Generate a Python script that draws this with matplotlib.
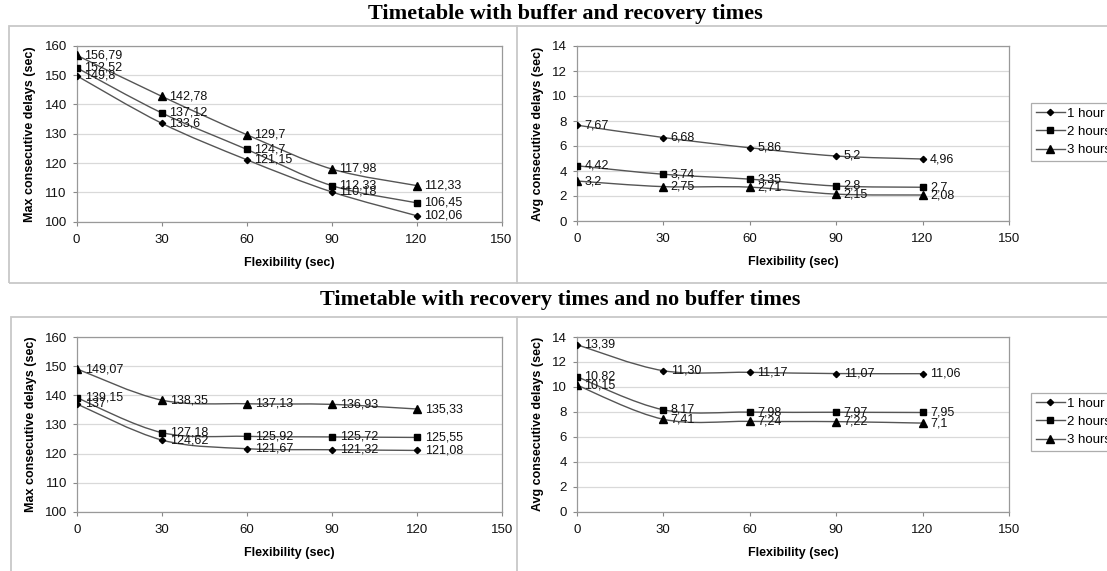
import numpy as np
import matplotlib
matplotlib.use("Agg")
import matplotlib.pyplot as plt
from matplotlib.path import Path
from matplotlib.patches import PathPatch, Rectangle
from matplotlib.lines import Line2D

plt.rcParams['font.family'] = ['Liberation Sans', 'DejaVu Sans']

flex = [0, 30, 60, 90, 120]
series = ['1 hour', '2 hours', '3 hours']
markers = ['D', 's', '^']
msizes = [3.2, 4.5, 5.5]

# top: timetable with buffer and recovery times
max_buf = [
    [149.8, 133.6, 121.15, 110.18, 102.06],
    [152.52, 137.12, 124.7, 112.33, 106.45],
    [156.79, 142.78, 129.7, 117.98, 112.33],
]
max_buf_lbl = [
    ['149,8', '133,6', '121,15', '110,18', '102,06'],
    ['152,52', '137,12', '124,7', '112,33', '106,45'],
    ['156,79', '142,78', '129,7', '117,98', '112,33'],
]
avg_buf = [
    [7.67, 6.68, 5.86, 5.2, 4.96],
    [4.42, 3.74, 3.35, 2.8, 2.7],
    [3.2, 2.75, 2.71, 2.15, 2.08],
]
avg_buf_lbl = [
    ['7,67', '6,68', '5,86', '5,2', '4,96'],
    ['4,42', '3,74', '3,35', '2,8', '2,7'],
    ['3,2', '2,75', '2,71', '2,15', '2,08'],
]

# bottom: recovery times and no buffer times
max_nobuf = [
    [137, 124.62, 121.67, 121.32, 121.08],
    [139.15, 127.18, 125.92, 125.72, 125.55],
    [149.07, 138.35, 137.13, 136.93, 135.33],
]
max_nobuf_lbl = [
    ['137', '124,62', '121,67', '121,32', '121,08'],
    ['139,15', '127,18', '125,92', '125,72', '125,55'],
    ['149,07', '138,35', '137,13', '136,93', '135,33'],
]
avg_nobuf = [
    [13.39, 11.30, 11.17, 11.07, 11.06],
    [10.82, 8.17, 7.98, 7.97, 7.95],
    [10.15, 7.41, 7.24, 7.22, 7.1],
]
avg_nobuf_lbl = [
    ['13,39', '11,30', '11,17', '11,07', '11,06'],
    ['10,82', '8,17', '7,98', '7,97', '7,95'],
    ['10,15', '7,41', '7,24', '7,22', '7,1'],
]

W, H = 1107, 571
fig = plt.figure(figsize=(W / 100, H / 100), dpi=100)


def px(x0, y0, x1, y1):
    return [x0 / W, 1 - y1 / H, (x1 - x0) / W, (y1 - y0) / H]


def smooth_path(xs, ys):
    # Catmull-Rom style bezier, like the smoothed lines of a spreadsheet chart
    pts = np.column_stack([xs, ys]).astype(float)
    n = len(pts)
    verts = [pts[0]]
    codes = [Path.MOVETO]
    for i in range(n - 1):
        p0 = pts[max(i - 1, 0)]
        p1 = pts[i]
        p2 = pts[i + 1]
        p3 = pts[min(i + 2, n - 1)]
        verts += [p1 + (p2 - p0) / 6, p2 - (p3 - p1) / 6, p2]
        codes += [Path.CURVE4] * 3
    return Path(verts, codes)


def panel(rect, data, labels, ylim, yticks, ylabel):
    ax = fig.add_axes(rect)
    for vals, lbls, m, ms in zip(data, labels, markers, msizes):
        ax.add_patch(PathPatch(smooth_path(flex, vals), fill=False,
                               edgecolor='#555555', lw=1.0, zorder=2))
        ax.plot(flex, vals, ls='none', marker=m, ms=ms, color='black', zorder=3)
        for x, y, t in zip(flex, vals, lbls):
            ax.annotate(t, (x, y), xytext=(5.5, 0), textcoords='offset points',
                        va='center', ha='left', fontsize=9, color='#111111', zorder=4)
    ax.set_xlim(0, 150)
    ax.set_xticks([0, 30, 60, 90, 120, 150])
    ax.set_ylim(*ylim)
    ax.set_yticks(yticks)
    ax.yaxis.grid(True, color='#d9d9d9', lw=0.9)
    ax.set_axisbelow(True)
    for s in ax.spines.values():
        s.set_color('#999999')
        s.set_linewidth(0.9)
    ax.tick_params(labelsize=9.5, length=3, color='#888888', pad=4, labelcolor='#111111')
    ax.tick_params(axis='x', pad=5.5)
    ax.set_xlabel('Flexibility (sec)', fontsize=9, fontweight='bold', labelpad=8)
    ax.set_ylabel(ylabel, fontsize=9, fontweight='bold', labelpad=6)
    return ax


panel(px(76.5, 45.7, 501.5, 221.7), max_buf, max_buf_lbl, (100, 160),
      range(100, 161, 10), 'Max consecutive delays (sec)')
ax_tr = panel(px(576.7, 46, 1009, 221), avg_buf, avg_buf_lbl, (0, 14),
              range(0, 15, 2), 'Avg consecutive delays (sec)')
panel(px(77.3, 337.3, 502, 511.7), max_nobuf, max_nobuf_lbl, (100, 160),
      range(100, 161, 10), 'Max consecutive delays (sec)')
ax_br = panel(px(576.7, 337, 1009, 511.7), avg_nobuf, avg_nobuf_lbl, (0, 14),
              range(0, 15, 2), 'Avg consecutive delays (sec)')

handles = [Line2D([], [], color='#555555', lw=1.0, marker=m, ms=ms,
                  markerfacecolor='black', markeredgecolor='black')
           for m, ms in zip(markers, msizes)]
for ax, top in [(ax_tr, 103), (ax_br, 393)]:
    leg = fig.legend(handles, series, loc='upper left',
                     bbox_to_anchor=(1031 / W, 1 - top / H), borderaxespad=0,
                     fontsize=9.5, frameon=True, fancybox=False, handlelength=2.2,
                     handletextpad=0.2, labelspacing=0.45, borderpad=0.35)
    leg.get_frame().set_edgecolor('#999999')
    leg.get_frame().set_linewidth(0.9)

# panel frames
for y0, y1, x0 in [(26, 282.7, 8.7), (317.3, 600, 10.7)]:
    fig.add_artist(Rectangle((x0 / W, 1 - y1 / H), (1200 - x0) / W, (y1 - y0) / H,
                             transform=fig.transFigure, fill=False,
                             edgecolor='#c8c8c8', lw=1.3))
    fig.add_artist(Line2D([516.7 / W] * 2, [1 - y0 / H, 1 - y1 / H],
                          transform=fig.transFigure, color='#c8c8c8', lw=1.3))

fig.text(565 / W, 1 - 14 / H, 'Timetable with buffer and recovery times',
         ha='center', va='center', fontsize=16, fontweight='bold',
         family='Liberation Serif')
fig.text(560 / W, 1 - 300 / H, 'Timetable with recovery times and no buffer times',
         ha='center', va='center', fontsize=16, fontweight='bold',
         family='Liberation Serif')

fig.savefig('out.png', dpi=100)
